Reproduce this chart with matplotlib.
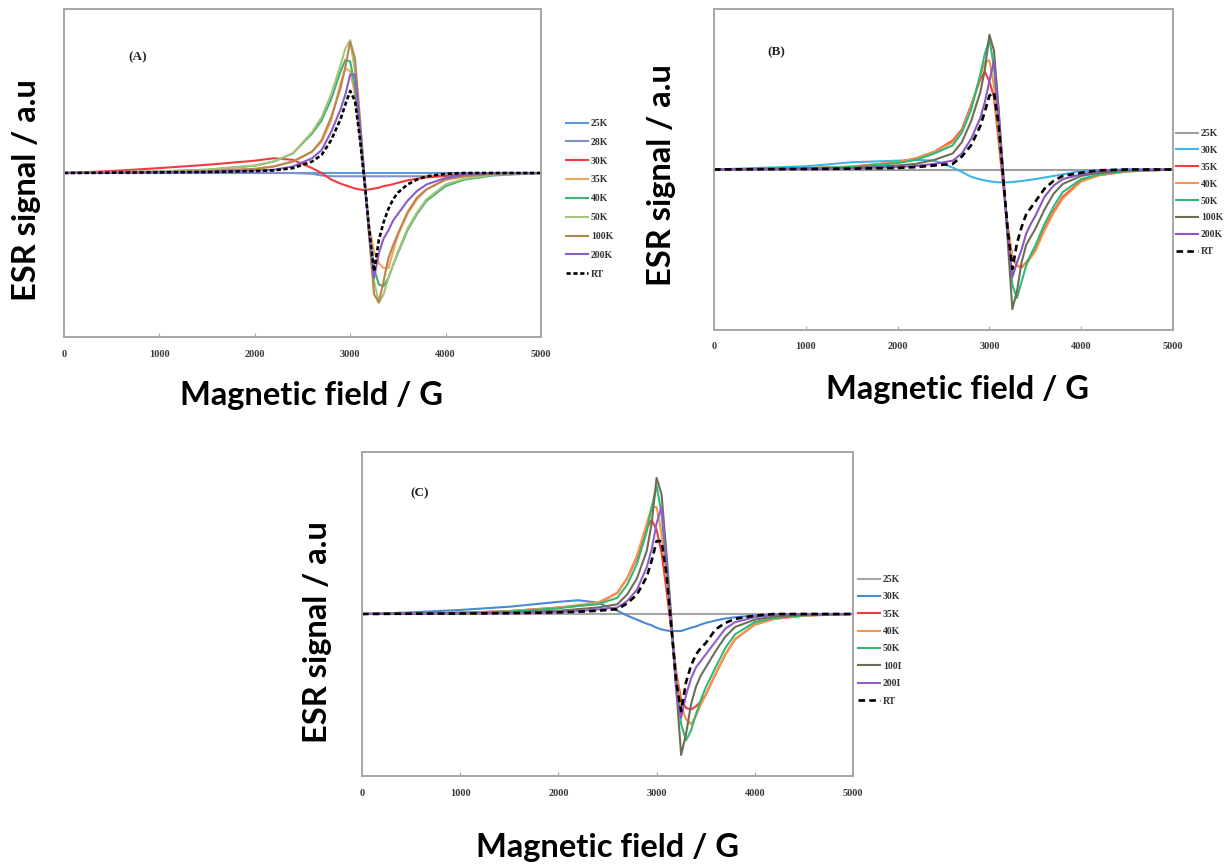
import matplotlib
matplotlib.use("Agg")
import matplotlib.pyplot as plt

# ---------------- data ----------------
field = [0, 500, 1000, 1500, 2000, 2200, 2400, 2600, 2700, 2800, 2900, 2950, 3000, 3050,
         3100, 3150, 3200, 3250, 3300, 3350, 3400, 3450, 3500, 3600, 3700, 3800, 4000,
         4200, 4500, 5000]
xticks = [0, 1000, 2000, 3000, 4000, 5000]

# Panel A
labels_a = ["25K", "28K", "30K", "35K", "40K", "50K", "100K", "200K", "RT"]
a_25K = [0.0] * 30
a_28K = [0, 0, 0, 0, 0, 0, 0, -0.005, -0.015, -0.02, -0.02, -0.02, -0.02, -0.02, -0.02, -0.02,
         -0.02, -0.02, -0.02, -0.02, -0.02, -0.02, -0.02, -0.02, -0.02, -0.02, -0.015, -0.01, -0.005, 0]
a_30K = [0, 0.012, 0.03, 0.05, 0.075, 0.09, 0.08, 0.03, 0.0, -0.04, -0.065, -0.075, -0.085, -0.095,
         -0.10, -0.105, -0.10, -0.095, -0.09, -0.08, -0.075, -0.068, -0.06, -0.045, -0.035, -0.027,
         -0.018, -0.01, -0.005, 0]
a_35K = [0, 0.003, 0.006, 0.012, 0.025, 0.04, 0.07, 0.13, 0.19, 0.32, 0.55, 0.64, 0.62, 0.48,
         0.22, -0.06, -0.32, -0.48, -0.55, -0.58, -0.58, -0.48, -0.38, -0.25, -0.16, -0.10,
         -0.04, -0.02, -0.005, 0]
a_40K = [0, 0.005, 0.01, 0.02, 0.045, 0.07, 0.12, 0.24, 0.32, 0.45, 0.62, 0.69, 0.68, 0.52,
         0.24, -0.06, -0.36, -0.58, -0.68, -0.69, -0.64, -0.56, -0.49, -0.35, -0.25, -0.17,
         -0.08, -0.04, -0.015, 0]
a_50K = [0, 0.005, 0.01, 0.02, 0.045, 0.07, 0.12, 0.25, 0.34, 0.48, 0.66, 0.76, 0.81, 0.62,
         0.30, -0.04, -0.38, -0.66, -0.79, -0.74, -0.64, -0.56, -0.48, -0.34, -0.24, -0.16,
         -0.07, -0.035, -0.01, 0]
a_100K = [0, 0.003, 0.006, 0.012, 0.025, 0.04, 0.07, 0.13, 0.20, 0.34, 0.52, 0.65, 0.80, 0.70,
          0.35, -0.02, -0.40, -0.74, -0.79, -0.66, -0.52, -0.44, -0.37, -0.24, -0.15, -0.10,
          -0.04, -0.02, -0.005, 0]
a_200K = [0, 0.002, 0.004, 0.007, 0.015, 0.02, 0.04, 0.09, 0.14, 0.25, 0.39, 0.48, 0.60, 0.60,
          0.30, -0.03, -0.38, -0.64, -0.49, -0.40, -0.35, -0.29, -0.25, -0.17, -0.11, -0.07,
          -0.03, -0.01, 0, 0]
a_RT = [0, 0.002, 0.004, 0.006, 0.012, 0.016, 0.03, 0.07, 0.11, 0.20, 0.33, 0.42, 0.50, 0.44,
        0.22, -0.05, -0.35, -0.60, -0.41, -0.30, -0.22, -0.16, -0.12, -0.07, -0.04, -0.02,
        -0.005, 0, 0, 0]

# Panel B
labels_b = ["25K", "30K", "35K", "40K", "50K", "100K", "200K", "RT"]
b_25K = [0.0] * 30
b_30K = [0, 0.01, 0.02, 0.045, 0.055, 0.06, 0.055, 0.012, -0.015, -0.045, -0.062, -0.068, -0.073,
         -0.077, -0.08, -0.08, -0.08, -0.078, -0.075, -0.072, -0.068, -0.064, -0.06, -0.05, -0.04,
         -0.03, -0.01, -0.005, 0, 0]
b_35K = [0, 0.004, 0.008, 0.018, 0.045, 0.07, 0.11, 0.18, 0.25, 0.40, 0.56, 0.61, 0.55, 0.45,
         0.18, -0.10, -0.36, -0.55, -0.60, -0.61, -0.58, -0.54, -0.50, -0.37, -0.26, -0.17,
         -0.07, -0.035, -0.012, 0]
b_40K = [0, 0.004, 0.008, 0.018, 0.045, 0.07, 0.11, 0.17, 0.24, 0.39, 0.58, 0.67, 0.68, 0.52,
         0.22, -0.08, -0.36, -0.54, -0.60, -0.60, -0.59, -0.55, -0.51, -0.38, -0.27, -0.18,
         -0.075, -0.035, -0.012, 0]
b_50K = [0, 0.004, 0.008, 0.016, 0.04, 0.06, 0.10, 0.15, 0.23, 0.37, 0.59, 0.72, 0.81, 0.64,
         0.30, -0.05, -0.42, -0.72, -0.80, -0.70, -0.60, -0.53, -0.475, -0.34, -0.23, -0.14,
         -0.06, -0.03, -0.01, 0]
b_100K = [0, 0.003, 0.006, 0.01, 0.025, 0.035, 0.06, 0.10, 0.17, 0.30, 0.48, 0.62, 0.84, 0.74,
          0.38, -0.02, -0.45, -0.87, -0.76, -0.58, -0.47, -0.42, -0.37, -0.25, -0.15, -0.09,
          -0.04, -0.02, -0.005, 0]
b_200K = [0, 0.002, 0.004, 0.007, 0.015, 0.022, 0.035, 0.055, 0.10, 0.19, 0.32, 0.42, 0.55, 0.68,
          0.36, -0.03, -0.40, -0.67, -0.58, -0.50, -0.40, -0.34, -0.29, -0.17, -0.10, -0.06,
          -0.03, -0.01, 0, 0]
b_RT = [0, 0.002, 0.003, 0.005, 0.01, 0.015, 0.025, 0.035, 0.08, 0.15, 0.27, 0.36, 0.46, 0.48,
        0.28, -0.05, -0.38, -0.62, -0.46, -0.36, -0.28, -0.24, -0.20, -0.12, -0.07, -0.04,
        -0.02, -0.005, 0, 0]

# Panel C
labels_c = ["25K", "30K", "35K", "40K", "50K", "100I", "200I", "RT"]
c_25K = [0.0] * 30
c_30K = [0, 0.01, 0.025, 0.045, 0.075, 0.085, 0.07, 0.02, -0.01, -0.035, -0.06, -0.07, -0.085,
         -0.095, -0.102, -0.105, -0.105, -0.105, -0.095, -0.085, -0.077, -0.065, -0.055, -0.04,
         -0.028, -0.02, -0.01, -0.005, 0, 0]
c_35K = [0, 0.004, 0.008, 0.018, 0.04, 0.05, 0.065, 0.13, 0.22, 0.35, 0.53, 0.58, 0.52, 0.38,
         0.15, -0.10, -0.36, -0.53, -0.58, -0.59, -0.57, -0.54, -0.50, -0.37, -0.25, -0.155,
         -0.065, -0.03, -0.01, 0]
c_40K = [0, 0.004, 0.008, 0.018, 0.04, 0.055, 0.07, 0.13, 0.22, 0.36, 0.56, 0.66, 0.66, 0.50,
         0.22, -0.08, -0.38, -0.57, -0.65, -0.68, -0.63, -0.56, -0.50, -0.37, -0.25, -0.155,
         -0.065, -0.03, -0.01, 0]
c_50K = [0, 0.004, 0.008, 0.015, 0.035, 0.05, 0.06, 0.10, 0.18, 0.31, 0.51, 0.66, 0.79, 0.62,
         0.30, -0.06, -0.42, -0.68, -0.78, -0.72, -0.62, -0.53, -0.455, -0.33, -0.21, -0.125,
         -0.05, -0.025, -0.008, 0]
c_100K = [0, 0.003, 0.005, 0.01, 0.02, 0.03, 0.04, 0.06, 0.12, 0.22, 0.39, 0.56, 0.84, 0.74,
          0.38, -0.02, -0.46, -0.87, -0.74, -0.56, -0.45, -0.38, -0.33, -0.23, -0.14, -0.08,
          -0.035, -0.015, -0.005, 0]
c_200K = [0, 0.002, 0.004, 0.006, 0.012, 0.018, 0.028, 0.04, 0.08, 0.15, 0.29, 0.40, 0.56, 0.66,
          0.33, -0.06, -0.48, -0.64, -0.50, -0.40, -0.33, -0.29, -0.25, -0.17, -0.09, -0.05,
          -0.02, -0.005, 0, 0]
c_RT = [0, 0.002, 0.003, 0.005, 0.01, 0.014, 0.02, 0.03, 0.065, 0.12, 0.23, 0.33, 0.45, 0.45,
        0.25, -0.08, -0.42, -0.60, -0.42, -0.32, -0.25, -0.21, -0.18, -0.095, -0.055, -0.03,
        -0.01, 0, 0, 0]

# ---------------- figure ----------------
W, H = 1230, 865
fig = plt.figure(figsize=(W / 100, H / 100), dpi=100)
fig.patch.set_facecolor("white")

FRAME = "#a6a6a6"
SERIF = ["Liberation Serif", "DejaVu Serif"]
BOLD = ["Lato", "Open Sans", "DejaVu Sans"]
LABEL_SIZE = 23.5


def box(l, t, r, b):
    return [l / W, 1 - b / H, (r - l) / W, (b - t) / H]


def panel(rect, series, labels, colors, styles, tag, tagxy, leg_anchor, leg_space,
          ylab_xy, xlab_xy):
    ax = fig.add_axes(box(*rect))
    for ys, lab, col, st in zip(series, labels, colors, styles):
        if st == "solid":
            ax.plot(field, ys, color=col, lw=1.5, label=lab)
        else:
            ax.plot(field, ys, color=col, lw=1.9, linestyle=st, label=lab)
    ax.set_xlim(0, 5000)
    ax.set_ylim(-1, 1)
    ax.set_xticks(xticks)
    ax.set_xticklabels([str(v) for v in xticks], fontfamily=SERIF, fontsize=7.5,
                       color="#3a3a3a", fontweight="bold")
    ax.set_yticks([])
    ax.tick_params(axis="x", direction="in", length=3, width=0.8, color=FRAME, pad=9)
    for s in ax.spines.values():
        s.set_color(FRAME)
        s.set_linewidth(1.4)
    ax.text(tagxy[0], tagxy[1], tag, transform=fig.transFigure, fontfamily=SERIF,
            fontsize=9.5, fontweight="bold", ha="center", va="center", color="#222222")
    leg = ax.legend(loc="upper left", bbox_to_anchor=leg_anchor,
                    bbox_transform=fig.transFigure, frameon=False, borderpad=0,
                    borderaxespad=0, handlelength=2.3, handletextpad=0.25,
                    labelspacing=leg_space, prop={"family": SERIF, "size": 7,
                                                  "weight": "bold"})
    for t in leg.get_texts():
        t.set_color("#333333")
    fig.text(ylab_xy[0] / W, 1 - ylab_xy[1] / H, "ESR signal / a.u", rotation=90,
             fontfamily=BOLD, fontweight="bold", fontsize=LABEL_SIZE, ha="center", va="center")
    fig.text(xlab_xy[0] / W, 1 - xlab_xy[1] / H, "Magnetic field / G",
             fontfamily=BOLD, fontweight="bold", fontsize=LABEL_SIZE, ha="center", va="center")
    return ax


panel((64, 9, 541, 337),
      [a_25K, a_28K, a_30K, a_35K, a_40K, a_50K, a_100K, a_200K, a_RT], labels_a,
      ["#5b9bd5", "#7f8fc8", "#f03c3c", "#f4a460", "#3cb371", "#a9c27a", "#b98550",
       "#8a5cc8", "black"],
      ["solid"] * 8 + [(0, (1.6, 1.0))],
      "(A)", (138 / W, 1 - 57 / H), (566 / W, 1 - 119 / H), 1.01,
      (27, 190), (311, 396))

panel((714, 9, 1173, 330),
      [b_25K, b_30K, b_35K, b_40K, b_50K, b_100K, b_200K, b_RT], labels_b,
      ["#a0a0a0", "#3fb6e8", "#f53b3b", "#f79646", "#2fb879", "#6e6e55", "#8a58c0", "black"],
      ["solid"] * 7 + [(0, (2.5, 1.6))],
      "(B)", (776 / W, 1 - 52 / H), (1176 / W, 1 - 129 / H), 0.81,
      (662, 175), (958, 389))

panel((362, 452, 853, 776),
      [c_25K, c_30K, c_35K, c_40K, c_50K, c_100K, c_200K, c_RT], labels_c,
      ["#a6a6a6", "#4a8ad4", "#f53b3b", "#f79646", "#33b877", "#6e6e58", "#9060c8", "black"],
      ["solid"] * 7 + [(0, (2.5, 1.6))],
      "(C)", (420 / W, 1 - 493 / H), (858 / W, 1 - 575 / H), 0.86,
      (317, 632), (608, 848))

fig.savefig("out.png", dpi=100, facecolor="white")
